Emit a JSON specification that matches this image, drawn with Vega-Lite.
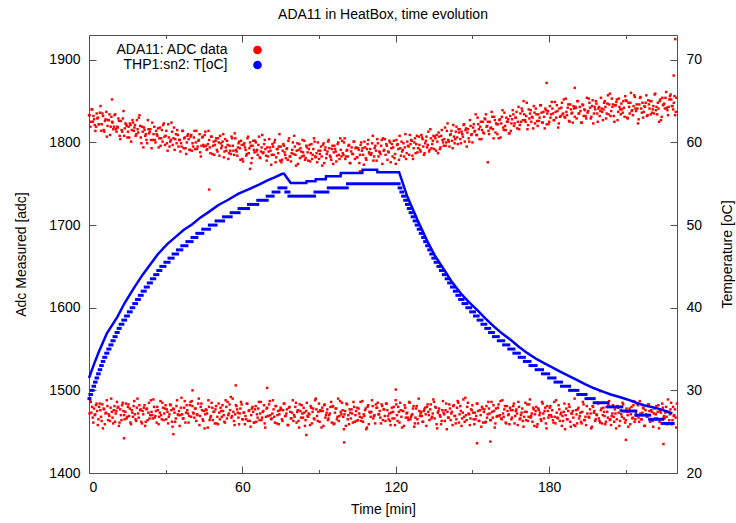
{
"$schema":"https://vega.github.io/schema/vega-lite/v6.json",
"width":588,"height":438,
"autosize":{"type":"none"},
"padding":{"left":89,"top":35,"right":59,"bottom":50},
"title":{"text":"ADA11 in HeatBox, time evolution","fontSize":14,"fontWeight":"normal","color":"#000000","font":"Liberation Sans","offset":13,"frame":"group","anchor":"middle"},
"config":{
"font":"Liberation Sans",
"view":{"stroke":"#505050","strokeWidth":1},
"axis":{"labelFont":"Liberation Sans","labelFontSize":14,"labelColor":"#000000","titleFont":"Liberation Sans","titleFontSize":14,"titleFontWeight":"normal","titleColor":"#000000","domain":false,"tickColor":"#505050","tickWidth":1,"grid":false}
},
"resolve":{"scale":{"x":"independent","y":"independent"},"axis":{"x":"independent","y":"independent"}},
"layer":[
{
"data":{"values":[
{"t":0,"a":1833},{"t":0.5,"a":1819},{"t":1,"a":1840},{"t":1.5,"a":1825},{"t":2,"a":1828},{"t":2.5,"a":1814},{"t":3,"a":1835},{"t":3.5,"a":1830},{"t":4,"a":1822},{"t":4.5,"a":1844},
{"t":5,"a":1822},{"t":5.5,"a":1832},{"t":6,"a":1813},{"t":6.5,"a":1828},{"t":7,"a":1807},{"t":7.5,"a":1827},{"t":8,"a":1834},{"t":8.5,"a":1819},{"t":9,"a":1825},{"t":9.5,"a":1816},
{"t":10,"a":1833},{"t":10.5,"a":1816},{"t":11,"a":1819},{"t":11.5,"a":1829},{"t":12,"a":1808},{"t":12.5,"a":1826},{"t":13,"a":1813},{"t":13.5,"a":1838},{"t":14,"a":1817},{"t":14.5,"a":1822},
{"t":15,"a":1806},{"t":15.5,"a":1819},{"t":16,"a":1823},{"t":16.5,"a":1801},{"t":17,"a":1827},{"t":17.5,"a":1814},{"t":18,"a":1821},{"t":18.5,"a":1810},{"t":19,"a":1816},{"t":19.5,"a":1830},
{"t":20,"a":1820},{"t":20.5,"a":1799},{"t":21,"a":1813},{"t":21.5,"a":1818},{"t":22,"a":1808},{"t":22.5,"a":1803},{"t":23,"a":1827},{"t":23.5,"a":1811},{"t":24,"a":1816},{"t":24.5,"a":1793},
{"t":25,"a":1803},{"t":25.5,"a":1819},{"t":26,"a":1800},{"t":26.5,"a":1810},{"t":27,"a":1817},{"t":27.5,"a":1805},{"t":28,"a":1796},{"t":28.5,"a":1815},{"t":29,"a":1821},{"t":29.5,"a":1807},
{"t":30,"a":1808},{"t":30.5,"a":1799},{"t":31,"a":1822},{"t":31.5,"a":1795},{"t":32,"a":1803},{"t":32.5,"a":1813},{"t":33,"a":1805},{"t":33.5,"a":1791},{"t":34,"a":1810},{"t":34.5,"a":1815},
{"t":35,"a":1795},{"t":35.5,"a":1803},{"t":36,"a":1799},{"t":36.5,"a":1814},{"t":37,"a":1793},{"t":37.5,"a":1806},{"t":38,"a":1786},{"t":38.5,"a":1808},{"t":39,"a":1804},{"t":39.5,"a":1791},
{"t":40,"a":1809},{"t":40.5,"a":1799},{"t":41,"a":1806},{"t":41.5,"a":1792},{"t":42,"a":1814},{"t":42.5,"a":1795},{"t":43,"a":1803},{"t":43.5,"a":1788},{"t":44,"a":1796},{"t":44.5,"a":1807},
{"t":45,"a":1795},{"t":45.5,"a":1813},{"t":46,"a":1791},{"t":46.5,"a":1798},{"t":47,"a":1803},{"t":47.5,"a":1787},{"t":48,"a":1807},{"t":48.5,"a":1796},{"t":49,"a":1785},{"t":49.5,"a":1802},
{"t":50,"a":1791},{"t":50.5,"a":1805},{"t":51,"a":1784},{"t":51.5,"a":1799},{"t":52,"a":1796},{"t":52.5,"a":1810},{"t":53,"a":1789},{"t":53.5,"a":1794},{"t":54,"a":1802},{"t":54.5,"a":1780},
{"t":55,"a":1796},{"t":55.5,"a":1786},{"t":56,"a":1805},{"t":56.5,"a":1790},{"t":57,"a":1811},{"t":57.5,"a":1791},{"t":58,"a":1784},{"t":58.5,"a":1799},{"t":59,"a":1793},{"t":59.5,"a":1802},
{"t":60,"a":1780},{"t":60.5,"a":1797},{"t":61,"a":1794},{"t":61.5,"a":1784},{"t":62,"a":1805},{"t":62.5,"a":1787},{"t":63,"a":1800},{"t":63.5,"a":1775},{"t":64,"a":1796},{"t":64.5,"a":1791},
{"t":65,"a":1802},{"t":65.5,"a":1789},{"t":66,"a":1785},{"t":66.5,"a":1807},{"t":67,"a":1781},{"t":67.5,"a":1794},{"t":68,"a":1787},{"t":68.5,"a":1798},{"t":69,"a":1792},{"t":69.5,"a":1778},
{"t":70,"a":1783},{"t":70.5,"a":1804},{"t":71,"a":1790},{"t":71.5,"a":1785},{"t":72,"a":1795},{"t":72.5,"a":1800},{"t":73,"a":1776},{"t":73.5,"a":1792},{"t":74,"a":1787},{"t":74.5,"a":1810},
{"t":75,"a":1795},{"t":75.5,"a":1779},{"t":76,"a":1798},{"t":76.5,"a":1788},{"t":77,"a":1781},{"t":77.5,"a":1793},{"t":78,"a":1802},{"t":78.5,"a":1783},{"t":79,"a":1777},{"t":79.5,"a":1791},
{"t":80,"a":1786},{"t":80.5,"a":1795},{"t":81,"a":1772},{"t":81.5,"a":1799},{"t":82,"a":1791},{"t":82.5,"a":1781},{"t":83,"a":1789},{"t":83.5,"a":1803},{"t":84,"a":1784},{"t":84.5,"a":1779},
{"t":85,"a":1796},{"t":85.5,"a":1788},{"t":86,"a":1792},{"t":86.5,"a":1777},{"t":87,"a":1798},{"t":87.5,"a":1785},{"t":88,"a":1805},{"t":88.5,"a":1783},{"t":89,"a":1787},{"t":89.5,"a":1800},
{"t":90,"a":1780},{"t":90.5,"a":1790},{"t":91,"a":1783},{"t":91.5,"a":1797},{"t":92,"a":1775},{"t":92.5,"a":1794},{"t":93,"a":1786},{"t":93.5,"a":1801},{"t":94,"a":1793},{"t":94.5,"a":1782},
{"t":95,"a":1792},{"t":95.5,"a":1774},{"t":96,"a":1796},{"t":96.5,"a":1789},{"t":97,"a":1784},{"t":97.5,"a":1800},{"t":98,"a":1780},{"t":98.5,"a":1791},{"t":99,"a":1802},{"t":99.5,"a":1785},
{"t":100,"a":1805},{"t":100.5,"a":1783},{"t":101,"a":1791},{"t":101.5,"a":1796},{"t":102,"a":1775},{"t":102.5,"a":1789},{"t":103,"a":1786},{"t":103.5,"a":1801},{"t":104,"a":1780},{"t":104.5,"a":1794},
{"t":105,"a":1782},{"t":105.5,"a":1791},{"t":106,"a":1785},{"t":106.5,"a":1800},{"t":107,"a":1793},{"t":107.5,"a":1773},{"t":108,"a":1794},{"t":108.5,"a":1779},{"t":109,"a":1798},{"t":109.5,"a":1788},
{"t":110,"a":1792},{"t":110.5,"a":1787},{"t":111,"a":1808},{"t":111.5,"a":1783},{"t":112,"a":1796},{"t":112.5,"a":1778},{"t":113,"a":1799},{"t":113.5,"a":1789},{"t":114,"a":1786},{"t":114.5,"a":1803},
{"t":115,"a":1805},{"t":115.5,"a":1791},{"t":116,"a":1785},{"t":116.5,"a":1796},{"t":117,"a":1789},{"t":117.5,"a":1802},{"t":118,"a":1776},{"t":118.5,"a":1798},{"t":119,"a":1794},{"t":119.5,"a":1781},
{"t":120,"a":1774},{"t":120.5,"a":1797},{"t":121,"a":1792},{"t":121.5,"a":1808},{"t":122,"a":1784},{"t":122.5,"a":1789},{"t":123,"a":1799},{"t":123.5,"a":1794},{"t":124,"a":1780},{"t":124.5,"a":1801},
{"t":125,"a":1795},{"t":125.5,"a":1809},{"t":126,"a":1803},{"t":126.5,"a":1784},{"t":127,"a":1793},{"t":127.5,"a":1805},{"t":128,"a":1798},{"t":128.5,"a":1788},{"t":129,"a":1807},{"t":129.5,"a":1791},
{"t":130,"a":1809},{"t":130.5,"a":1804},{"t":131,"a":1785},{"t":131.5,"a":1799},{"t":132,"a":1807},{"t":132.5,"a":1797},{"t":133,"a":1789},{"t":133.5,"a":1816},{"t":134,"a":1793},{"t":134.5,"a":1802},
{"t":135,"a":1792},{"t":135.5,"a":1805},{"t":136,"a":1809},{"t":136.5,"a":1787},{"t":137,"a":1807},{"t":137.5,"a":1794},{"t":138,"a":1815},{"t":138.5,"a":1800},{"t":139,"a":1804},{"t":139.5,"a":1796},
{"t":140,"a":1814},{"t":140.5,"a":1803},{"t":141,"a":1795},{"t":141.5,"a":1810},{"t":142,"a":1802},{"t":142.5,"a":1821},{"t":143,"a":1799},{"t":143.5,"a":1813},{"t":144,"a":1806},{"t":144.5,"a":1816},
{"t":145,"a":1816},{"t":145.5,"a":1799},{"t":146,"a":1810},{"t":146.5,"a":1821},{"t":147,"a":1801},{"t":147.5,"a":1817},{"t":148,"a":1812},{"t":148.5,"a":1805},{"t":149,"a":1827},{"t":149.5,"a":1809},
{"t":150,"a":1800},{"t":150.5,"a":1822},{"t":151,"a":1814},{"t":151.5,"a":1809},{"t":152,"a":1830},{"t":152.5,"a":1816},{"t":153,"a":1819},{"t":153.5,"a":1804},{"t":154,"a":1825},{"t":154.5,"a":1811},
{"t":155,"a":1828},{"t":155.5,"a":1819},{"t":156,"a":1825},{"t":156.5,"a":1810},{"t":157,"a":1817},{"t":157.5,"a":1837},{"t":158,"a":1816},{"t":158.5,"a":1831},{"t":159,"a":1812},{"t":159.5,"a":1822},
{"t":160,"a":1822},{"t":160.5,"a":1827},{"t":161,"a":1806},{"t":161.5,"a":1831},{"t":162,"a":1818},{"t":162.5,"a":1836},{"t":163,"a":1815},{"t":163.5,"a":1825},{"t":164,"a":1828},{"t":164.5,"a":1811},
{"t":165,"a":1814},{"t":165.5,"a":1828},{"t":166,"a":1834},{"t":166.5,"a":1823},{"t":167,"a":1830},{"t":167.5,"a":1817},{"t":168,"a":1843},{"t":168.5,"a":1821},{"t":169,"a":1825},{"t":169.5,"a":1838},
{"t":170,"a":1850},{"t":170.5,"a":1827},{"t":171,"a":1832},{"t":171.5,"a":1816},{"t":172,"a":1840},{"t":172.5,"a":1835},{"t":173,"a":1825},{"t":173.5,"a":1830},{"t":174,"a":1844},{"t":174.5,"a":1823},
{"t":175,"a":1834},{"t":175.5,"a":1820},{"t":176,"a":1826},{"t":176.5,"a":1845},{"t":177,"a":1836},{"t":177.5,"a":1824},{"t":178,"a":1831},{"t":178.5,"a":1841},{"t":179,"a":1822},{"t":179.5,"a":1838},
{"t":180,"a":1825},{"t":180.5,"a":1830},{"t":181,"a":1849},{"t":181.5,"a":1835},{"t":182,"a":1827},{"t":182.5,"a":1837},{"t":183,"a":1845},{"t":183.5,"a":1818},{"t":184,"a":1841},{"t":184.5,"a":1832},
{"t":185,"a":1848},{"t":185.5,"a":1835},{"t":186,"a":1831},{"t":186.5,"a":1853},{"t":187,"a":1833},{"t":187.5,"a":1846},{"t":188,"a":1825},{"t":188.5,"a":1840},{"t":189,"a":1836},{"t":189.5,"a":1844},
{"t":190,"a":1831},{"t":190.5,"a":1842},{"t":191,"a":1850},{"t":191.5,"a":1835},{"t":192,"a":1843},{"t":192.5,"a":1824},{"t":193,"a":1846},{"t":193.5,"a":1832},{"t":194,"a":1839},{"t":194.5,"a":1829},
{"t":195,"a":1836},{"t":195.5,"a":1853},{"t":196,"a":1842},{"t":196.5,"a":1831},{"t":197,"a":1851},{"t":197.5,"a":1835},{"t":198,"a":1840},{"t":198.5,"a":1847},{"t":199,"a":1825},{"t":199.5,"a":1843},
{"t":200,"a":1838},{"t":200.5,"a":1841},{"t":201,"a":1827},{"t":201.5,"a":1848},{"t":202,"a":1843},{"t":202.5,"a":1835},{"t":203,"a":1857},{"t":203.5,"a":1846},{"t":204,"a":1832},{"t":204.5,"a":1853},
{"t":205,"a":1846},{"t":205.5,"a":1825},{"t":206,"a":1845},{"t":206.5,"a":1852},{"t":207,"a":1837},{"t":207.5,"a":1843},{"t":208,"a":1834},{"t":208.5,"a":1840},{"t":209,"a":1850},{"t":209.5,"a":1831},
{"t":210,"a":1851},{"t":210.5,"a":1830},{"t":211,"a":1848},{"t":211.5,"a":1835},{"t":212,"a":1860},{"t":212.5,"a":1839},{"t":213,"a":1844},{"t":213.5,"a":1855},{"t":214,"a":1838},{"t":214.5,"a":1841},
{"t":215,"a":1828},{"t":215.5,"a":1854},{"t":216,"a":1841},{"t":216.5,"a":1848},{"t":217,"a":1837},{"t":217.5,"a":1843},{"t":218,"a":1857},{"t":218.5,"a":1833},{"t":219,"a":1846},{"t":219.5,"a":1850},
{"t":220,"a":1850},{"t":220.5,"a":1840},{"t":221,"a":1835},{"t":221.5,"a":1859},{"t":222,"a":1843},{"t":222.5,"a":1848},{"t":223,"a":1825},{"t":223.5,"a":1852},{"t":224,"a":1831},{"t":224.5,"a":1845},
{"t":225,"a":1847},{"t":225.5,"a":1854},{"t":226,"a":1842},{"t":226.5,"a":1833},{"t":227,"a":1852},{"t":227.5,"a":1858},{"t":228,"a":1844},{"t":228.5,"a":1840},{"t":229,"a":1856},{"t":229.5,"a":1837},
{"t":0.25,"a":1833},{"t":0.75,"a":1825},{"t":1.25,"a":1840},{"t":1.75,"a":1832},{"t":2.25,"a":1821},{"t":2.75,"a":1819},{"t":3.25,"a":1829},{"t":3.75,"a":1822},{"t":4.25,"a":1836},{"t":4.75,"a":1814},
{"t":5.25,"a":1835},{"t":5.75,"a":1815},{"t":6.25,"a":1826},{"t":6.75,"a":1837},{"t":7.25,"a":1820},{"t":7.75,"a":1827},{"t":8.25,"a":1809},{"t":8.75,"a":1831},{"t":9.25,"a":1824},{"t":9.75,"a":1819},
{"t":10.25,"a":1834},{"t":10.75,"a":1813},{"t":11.25,"a":1818},{"t":11.75,"a":1826},{"t":12.25,"a":1804},{"t":12.75,"a":1815},{"t":13.25,"a":1829},{"t":13.75,"a":1808},{"t":14.25,"a":1823},{"t":14.75,"a":1820},
{"t":15.25,"a":1813},{"t":15.75,"a":1806},{"t":16.25,"a":1821},{"t":16.75,"a":1815},{"t":17.25,"a":1824},{"t":17.75,"a":1818},{"t":18.25,"a":1808},{"t":18.75,"a":1827},{"t":19.25,"a":1812},{"t":19.75,"a":1833},
{"t":20.25,"a":1806},{"t":20.75,"a":1819},{"t":21.25,"a":1794},{"t":21.75,"a":1815},{"t":22.25,"a":1810},{"t":22.75,"a":1799},{"t":23.25,"a":1816},{"t":23.75,"a":1813},{"t":24.25,"a":1803},{"t":24.75,"a":1824},
{"t":25.25,"a":1810},{"t":25.75,"a":1803},{"t":26.25,"a":1814},{"t":26.75,"a":1808},{"t":27.25,"a":1794},{"t":27.75,"a":1818},{"t":28.25,"a":1805},{"t":28.75,"a":1801},{"t":29.25,"a":1823},{"t":29.75,"a":1797},
{"t":30.25,"a":1814},{"t":30.75,"a":1790},{"t":31.25,"a":1806},{"t":31.75,"a":1801},{"t":32.25,"a":1824},{"t":32.75,"a":1797},{"t":33.25,"a":1818},{"t":33.75,"a":1804},{"t":34.25,"a":1799},{"t":34.75,"a":1809},
{"t":35.25,"a":1803},{"t":35.75,"a":1789},{"t":36.25,"a":1795},{"t":36.75,"a":1814},{"t":37.25,"a":1805},{"t":37.75,"a":1793},{"t":38.25,"a":1800},{"t":38.75,"a":1810},{"t":39.25,"a":1791},{"t":39.75,"a":1807},
{"t":40.25,"a":1790},{"t":40.75,"a":1795},{"t":41.25,"a":1814},{"t":41.75,"a":1800},{"t":42.25,"a":1792},{"t":42.75,"a":1802},{"t":43.25,"a":1810},{"t":43.75,"a":1783},{"t":44.25,"a":1806},{"t":44.75,"a":1797},
{"t":45.25,"a":1809},{"t":45.75,"a":1796},{"t":46.25,"a":1792},{"t":46.75,"a":1814},{"t":47.25,"a":1794},{"t":47.75,"a":1807},{"t":48.25,"a":1786},{"t":48.75,"a":1801},{"t":49.25,"a":1797},{"t":49.75,"a":1805},
{"t":50.25,"a":1789},{"t":50.75,"a":1800},{"t":51.25,"a":1808},{"t":51.75,"a":1793},{"t":52.25,"a":1801},{"t":52.75,"a":1782},{"t":53.25,"a":1804},{"t":53.75,"a":1790},{"t":54.25,"a":1797},{"t":54.75,"a":1787},
{"t":55.25,"a":1790},{"t":55.75,"a":1807},{"t":56.25,"a":1796},{"t":56.75,"a":1785},{"t":57.25,"a":1805},{"t":57.75,"a":1789},{"t":58.25,"a":1794},{"t":58.75,"a":1801},{"t":59.25,"a":1779},{"t":59.75,"a":1797},
{"t":60.25,"a":1777},{"t":60.75,"a":1799},{"t":61.25,"a":1791},{"t":61.75,"a":1786},{"t":62.25,"a":1807},{"t":62.75,"a":1793},{"t":63.25,"a":1796},{"t":63.75,"a":1781},{"t":64.25,"a":1802},{"t":64.75,"a":1788},
{"t":65.25,"a":1800},{"t":65.75,"a":1791},{"t":66.25,"a":1797},{"t":66.75,"a":1782},{"t":67.25,"a":1789},{"t":67.75,"a":1809},{"t":68.25,"a":1788},{"t":68.75,"a":1803},{"t":69.25,"a":1784},{"t":69.75,"a":1794},
{"t":70.25,"a":1789},{"t":70.75,"a":1794},{"t":71.25,"a":1773},{"t":71.75,"a":1798},{"t":72.25,"a":1785},{"t":72.75,"a":1803},{"t":73.25,"a":1782},{"t":73.75,"a":1792},{"t":74.25,"a":1795},{"t":74.75,"a":1778},
{"t":75.25,"a":1776},{"t":75.75,"a":1790},{"t":76.25,"a":1796},{"t":76.75,"a":1785},{"t":77.25,"a":1792},{"t":77.75,"a":1779},{"t":78.25,"a":1805},{"t":78.75,"a":1783},{"t":79.25,"a":1787},{"t":79.75,"a":1800},
{"t":80.25,"a":1808},{"t":80.75,"a":1785},{"t":81.25,"a":1790},{"t":81.75,"a":1774},{"t":82.25,"a":1798},{"t":82.75,"a":1793},{"t":83.25,"a":1783},{"t":83.75,"a":1788},{"t":84.25,"a":1802},{"t":84.75,"a":1781},
{"t":85.25,"a":1794},{"t":85.75,"a":1778},{"t":86.25,"a":1797},{"t":86.75,"a":1787},{"t":87.25,"a":1780},{"t":87.75,"a":1792},{"t":88.25,"a":1801},{"t":88.75,"a":1782},{"t":89.25,"a":1776},{"t":89.75,"a":1790},
{"t":90.25,"a":1786},{"t":90.75,"a":1795},{"t":91.25,"a":1772},{"t":91.75,"a":1799},{"t":92.25,"a":1791},{"t":92.75,"a":1781},{"t":93.25,"a":1789},{"t":93.75,"a":1803},{"t":94.25,"a":1784},{"t":94.75,"a":1779},
{"t":95.25,"a":1796},{"t":95.75,"a":1788},{"t":96.25,"a":1792},{"t":96.75,"a":1777},{"t":97.25,"a":1798},{"t":97.75,"a":1785},{"t":98.25,"a":1805},{"t":98.75,"a":1783},{"t":99.25,"a":1787},{"t":99.75,"a":1800},
{"t":100.25,"a":1780},{"t":100.75,"a":1790},{"t":101.25,"a":1783},{"t":101.75,"a":1797},{"t":102.25,"a":1775},{"t":102.75,"a":1794},{"t":103.25,"a":1786},{"t":103.75,"a":1801},{"t":104.25,"a":1793},{"t":104.75,"a":1782},
{"t":105.25,"a":1793},{"t":105.75,"a":1775},{"t":106.25,"a":1797},{"t":106.75,"a":1790},{"t":107.25,"a":1785},{"t":107.75,"a":1801},{"t":108.25,"a":1781},{"t":108.75,"a":1792},{"t":109.25,"a":1803},{"t":109.75,"a":1786},
{"t":110.25,"a":1785},{"t":110.75,"a":1799},{"t":111.25,"a":1778},{"t":111.75,"a":1793},{"t":112.25,"a":1790},{"t":112.75,"a":1804},{"t":113.25,"a":1783},{"t":113.75,"a":1788},{"t":114.25,"a":1796},{"t":114.75,"a":1774},
{"t":115.25,"a":1790},{"t":115.75,"a":1804},{"t":116.25,"a":1798},{"t":116.75,"a":1779},{"t":117.25,"a":1788},{"t":117.75,"a":1800},{"t":118.25,"a":1793},{"t":118.75,"a":1783},{"t":119.25,"a":1802},{"t":119.75,"a":1786},
{"t":120.25,"a":1803},{"t":120.75,"a":1798},{"t":121.25,"a":1779},{"t":121.75,"a":1793},{"t":122.25,"a":1801},{"t":122.75,"a":1791},{"t":123.25,"a":1783},{"t":123.75,"a":1810},{"t":124.25,"a":1787},{"t":124.75,"a":1796},
{"t":125.25,"a":1785},{"t":125.75,"a":1798},{"t":126.25,"a":1802},{"t":126.75,"a":1780},{"t":127.25,"a":1800},{"t":127.75,"a":1787},{"t":128.25,"a":1808},{"t":128.75,"a":1793},{"t":129.25,"a":1797},{"t":129.75,"a":1789},
{"t":130.25,"a":1806},{"t":130.75,"a":1795},{"t":131.25,"a":1787},{"t":131.75,"a":1802},{"t":132.25,"a":1794},{"t":132.75,"a":1813},{"t":133.25,"a":1791},{"t":133.75,"a":1805},{"t":134.25,"a":1798},{"t":134.75,"a":1808},
{"t":135.25,"a":1807},{"t":135.75,"a":1790},{"t":136.25,"a":1801},{"t":136.75,"a":1812},{"t":137.25,"a":1792},{"t":137.75,"a":1808},{"t":138.25,"a":1803},{"t":138.75,"a":1796},{"t":139.25,"a":1818},{"t":139.75,"a":1800},
{"t":140.25,"a":1823},{"t":140.75,"a":1801},{"t":141.25,"a":1809},{"t":141.75,"a":1814},{"t":142.25,"a":1793},{"t":142.75,"a":1807},{"t":143.25,"a":1804},{"t":143.75,"a":1819},{"t":144.25,"a":1798},{"t":144.75,"a":1812},
{"t":145.25,"a":1804},{"t":145.75,"a":1813},{"t":146.25,"a":1807},{"t":146.75,"a":1822},{"t":147.25,"a":1815},{"t":147.75,"a":1795},{"t":148.25,"a":1816},{"t":148.75,"a":1801},{"t":149.25,"a":1820},{"t":149.75,"a":1810},
{"t":150.25,"a":1818},{"t":150.75,"a":1813},{"t":151.25,"a":1834},{"t":151.75,"a":1809},{"t":152.25,"a":1822},{"t":152.75,"a":1804},{"t":153.25,"a":1825},{"t":153.75,"a":1815},{"t":154.25,"a":1812},{"t":154.75,"a":1829},
{"t":155.25,"a":1834},{"t":155.75,"a":1820},{"t":156.25,"a":1814},{"t":156.75,"a":1825},{"t":157.25,"a":1818},{"t":157.75,"a":1831},{"t":158.25,"a":1805},{"t":158.75,"a":1827},{"t":159.25,"a":1823},{"t":159.75,"a":1810},
{"t":160.25,"a":1805},{"t":160.75,"a":1828},{"t":161.25,"a":1823},{"t":161.75,"a":1839},{"t":162.25,"a":1815},{"t":162.75,"a":1820},{"t":163.25,"a":1830},{"t":163.75,"a":1825},{"t":164.25,"a":1811},{"t":164.75,"a":1832},
{"t":165.25,"a":1823},{"t":165.75,"a":1839},{"t":166.25,"a":1820},{"t":166.75,"a":1830},{"t":167.25,"a":1837},{"t":167.75,"a":1825},{"t":168.25,"a":1816},{"t":168.75,"a":1835},{"t":169.25,"a":1841},{"t":169.75,"a":1827},
{"t":170.25,"a":1834},{"t":170.75,"a":1825},{"t":171.25,"a":1848},{"t":171.75,"a":1821},{"t":172.25,"a":1829},{"t":172.75,"a":1839},{"t":173.25,"a":1831},{"t":173.75,"a":1817},{"t":174.25,"a":1836},{"t":174.75,"a":1841},
{"t":175.25,"a":1826},{"t":175.75,"a":1834},{"t":176.25,"a":1830},{"t":176.75,"a":1845},{"t":177.25,"a":1824},{"t":177.75,"a":1837},{"t":178.25,"a":1817},{"t":178.75,"a":1839},{"t":179.25,"a":1835},{"t":179.75,"a":1822},
{"t":180.25,"a":1844},{"t":180.75,"a":1834},{"t":181.25,"a":1841},{"t":181.75,"a":1827},{"t":182.25,"a":1849},{"t":182.75,"a":1830},{"t":183.25,"a":1838},{"t":183.75,"a":1823},{"t":184.25,"a":1831},{"t":184.75,"a":1842},
{"t":185.25,"a":1834},{"t":185.75,"a":1852},{"t":186.25,"a":1830},{"t":186.75,"a":1837},{"t":187.25,"a":1842},{"t":187.75,"a":1826},{"t":188.25,"a":1846},{"t":188.75,"a":1835},{"t":189.25,"a":1824},{"t":189.75,"a":1841},
{"t":190.25,"a":1843},{"t":190.75,"a":1829},{"t":191.25,"a":1850},{"t":191.75,"a":1835},{"t":192.25,"a":1838},{"t":192.75,"a":1824},{"t":193.25,"a":1845},{"t":193.75,"a":1840},{"t":194.25,"a":1832},{"t":194.75,"a":1854},
{"t":195.25,"a":1838},{"t":195.75,"a":1848},{"t":196.25,"a":1829},{"t":196.75,"a":1844},{"t":197.25,"a":1823},{"t":197.75,"a":1843},{"t":198.25,"a":1850},{"t":198.75,"a":1835},{"t":199.25,"a":1841},{"t":199.75,"a":1832},
{"t":200.25,"a":1854},{"t":200.75,"a":1837},{"t":201.25,"a":1840},{"t":201.75,"a":1850},{"t":202.25,"a":1829},{"t":202.75,"a":1847},{"t":203.25,"a":1834},{"t":203.75,"a":1859},{"t":204.25,"a":1838},{"t":204.75,"a":1843},
{"t":205.25,"a":1832},{"t":205.75,"a":1845},{"t":206.25,"a":1849},{"t":206.75,"a":1827},{"t":207.25,"a":1853},{"t":207.75,"a":1840},{"t":208.25,"a":1847},{"t":208.75,"a":1836},{"t":209.25,"a":1842},{"t":209.75,"a":1856},
{"t":210.25,"a":1850},{"t":210.75,"a":1829},{"t":211.25,"a":1843},{"t":211.75,"a":1848},{"t":212.25,"a":1838},{"t":212.75,"a":1833},{"t":213.25,"a":1857},{"t":213.75,"a":1841},{"t":214.25,"a":1846},{"t":214.75,"a":1823},
{"t":215.25,"a":1846},{"t":215.75,"a":1855},{"t":216.25,"a":1836},{"t":216.75,"a":1830},{"t":217.25,"a":1844},{"t":217.75,"a":1848},{"t":218.25,"a":1832},{"t":218.75,"a":1851},{"t":219.25,"a":1841},{"t":219.75,"a":1834},
{"t":220.25,"a":1836},{"t":220.75,"a":1844},{"t":221.25,"a":1858},{"t":221.75,"a":1839},{"t":222.25,"a":1834},{"t":222.75,"a":1841},{"t":223.25,"a":1850},{"t":223.75,"a":1827},{"t":224.25,"a":1854},{"t":224.75,"a":1846},
{"t":225.25,"a":1841},{"t":225.75,"a":1861},{"t":226.25,"a":1839},{"t":226.75,"a":1843},{"t":227.25,"a":1856},{"t":227.75,"a":1852},{"t":228.25,"a":1844},{"t":228.75,"a":1848},{"t":229.25,"a":1833},{"t":229.75,"a":1854},
{"t":0.2,"a":1472},{"t":0.7,"a":1486},{"t":1.2,"a":1480},{"t":1.7,"a":1461},{"t":2.2,"a":1470},{"t":2.7,"a":1482},{"t":3.2,"a":1475},{"t":3.7,"a":1465},{"t":4.2,"a":1484},{"t":4.7,"a":1468},
{"t":5.2,"a":1483},{"t":5.7,"a":1478},{"t":6.2,"a":1459},{"t":6.7,"a":1473},{"t":7.2,"a":1481},{"t":7.7,"a":1471},{"t":8.2,"a":1463},{"t":8.7,"a":1490},{"t":9.2,"a":1467},{"t":9.7,"a":1476},
{"t":10.2,"a":1462},{"t":10.7,"a":1475},{"t":11.2,"a":1479},{"t":11.7,"a":1457},{"t":12.2,"a":1477},{"t":12.7,"a":1464},{"t":13.2,"a":1485},{"t":13.7,"a":1470},{"t":14.2,"a":1474},{"t":14.7,"a":1466},
{"t":15.2,"a":1480},{"t":15.7,"a":1469},{"t":16.2,"a":1461},{"t":16.7,"a":1476},{"t":17.2,"a":1468},{"t":17.7,"a":1487},{"t":18.2,"a":1465},{"t":18.7,"a":1479},{"t":19.2,"a":1472},{"t":19.7,"a":1482},
{"t":20.2,"a":1477},{"t":20.7,"a":1460},{"t":21.2,"a":1471},{"t":21.7,"a":1482},{"t":22.2,"a":1462},{"t":22.7,"a":1478},{"t":23.2,"a":1473},{"t":23.7,"a":1466},{"t":24.2,"a":1488},{"t":24.7,"a":1470},
{"t":25.2,"a":1489},{"t":25.7,"a":1467},{"t":26.2,"a":1475},{"t":26.7,"a":1480},{"t":27.2,"a":1459},{"t":27.7,"a":1473},{"t":28.2,"a":1470},{"t":28.7,"a":1485},{"t":29.2,"a":1464},{"t":29.7,"a":1478},
{"t":30.2,"a":1465},{"t":30.7,"a":1474},{"t":31.2,"a":1468},{"t":31.7,"a":1483},{"t":32.2,"a":1476},{"t":32.7,"a":1456},{"t":33.2,"a":1477},{"t":33.7,"a":1462},{"t":34.2,"a":1481},{"t":34.7,"a":1471},
{"t":35.2,"a":1475},{"t":35.7,"a":1470},{"t":36.2,"a":1491},{"t":36.7,"a":1466},{"t":37.2,"a":1479},{"t":37.7,"a":1461},{"t":38.2,"a":1482},{"t":38.7,"a":1472},{"t":39.2,"a":1469},{"t":39.7,"a":1486},
{"t":40.2,"a":1487},{"t":40.7,"a":1473},{"t":41.2,"a":1467},{"t":41.7,"a":1478},{"t":42.2,"a":1471},{"t":42.7,"a":1484},{"t":43.2,"a":1458},{"t":43.7,"a":1480},{"t":44.2,"a":1476},{"t":44.7,"a":1463},
{"t":45.2,"a":1454},{"t":45.7,"a":1477},{"t":46.2,"a":1472},{"t":46.7,"a":1488},{"t":47.2,"a":1464},{"t":47.7,"a":1469},{"t":48.2,"a":1479},{"t":48.7,"a":1474},{"t":49.2,"a":1460},{"t":49.7,"a":1481},
{"t":50.2,"a":1468},{"t":50.7,"a":1484},{"t":51.2,"a":1465},{"t":51.7,"a":1475},{"t":52.2,"a":1482},{"t":52.7,"a":1470},{"t":53.2,"a":1461},{"t":53.7,"a":1480},{"t":54.2,"a":1486},{"t":54.7,"a":1472},
{"t":55.2,"a":1476},{"t":55.7,"a":1467},{"t":56.2,"a":1490},{"t":56.7,"a":1463},{"t":57.2,"a":1471},{"t":57.7,"a":1481},{"t":58.2,"a":1473},{"t":58.7,"a":1459},{"t":59.2,"a":1478},{"t":59.7,"a":1483},
{"t":60.2,"a":1465},{"t":60.7,"a":1473},{"t":61.2,"a":1469},{"t":61.7,"a":1484},{"t":62.2,"a":1463},{"t":62.7,"a":1476},{"t":63.2,"a":1456},{"t":63.7,"a":1478},{"t":64.2,"a":1474},{"t":64.7,"a":1461},
{"t":65.2,"a":1481},{"t":65.7,"a":1471},{"t":66.2,"a":1478},{"t":66.7,"a":1464},{"t":67.2,"a":1486},{"t":67.7,"a":1467},{"t":68.2,"a":1475},{"t":68.7,"a":1460},{"t":69.2,"a":1468},{"t":69.7,"a":1479},
{"t":70.2,"a":1469},{"t":70.7,"a":1487},{"t":71.2,"a":1465},{"t":71.7,"a":1472},{"t":72.2,"a":1477},{"t":72.7,"a":1461},{"t":73.2,"a":1481},{"t":73.7,"a":1470},{"t":74.2,"a":1459},{"t":74.7,"a":1476},
{"t":75.2,"a":1477},{"t":75.7,"a":1463},{"t":76.2,"a":1484},{"t":76.7,"a":1469},{"t":77.2,"a":1472},{"t":77.7,"a":1458},{"t":78.2,"a":1479},{"t":78.7,"a":1474},{"t":79.2,"a":1466},{"t":79.7,"a":1488},
{"t":80.2,"a":1470},{"t":80.7,"a":1480},{"t":81.2,"a":1461},{"t":81.7,"a":1476},{"t":82.2,"a":1455},{"t":82.7,"a":1475},{"t":83.2,"a":1482},{"t":83.7,"a":1467},{"t":84.2,"a":1473},{"t":84.7,"a":1464},
{"t":85.2,"a":1485},{"t":85.7,"a":1468},{"t":86.2,"a":1471},{"t":86.7,"a":1481},{"t":87.2,"a":1460},{"t":87.7,"a":1478},{"t":88.2,"a":1465},{"t":88.7,"a":1490},{"t":89.2,"a":1469},{"t":89.7,"a":1474},
{"t":90.2,"a":1462},{"t":90.7,"a":1475},{"t":91.2,"a":1479},{"t":91.7,"a":1457},{"t":92.2,"a":1483},{"t":92.7,"a":1470},{"t":93.2,"a":1477},{"t":93.7,"a":1466},{"t":94.2,"a":1472},{"t":94.7,"a":1486},
{"t":95.2,"a":1480},{"t":95.7,"a":1459},{"t":96.2,"a":1473},{"t":96.7,"a":1478},{"t":97.2,"a":1468},{"t":97.7,"a":1463},{"t":98.2,"a":1487},{"t":98.7,"a":1471},{"t":99.2,"a":1476},{"t":99.7,"a":1453},
{"t":100.2,"a":1475},{"t":100.7,"a":1484},{"t":101.2,"a":1465},{"t":101.7,"a":1459},{"t":102.2,"a":1473},{"t":102.7,"a":1477},{"t":103.2,"a":1461},{"t":103.7,"a":1480},{"t":104.2,"a":1470},{"t":104.7,"a":1463},
{"t":105.2,"a":1464},{"t":105.7,"a":1472},{"t":106.2,"a":1486},{"t":106.7,"a":1467},{"t":107.2,"a":1462},{"t":107.7,"a":1469},{"t":108.2,"a":1478},{"t":108.7,"a":1455},{"t":109.2,"a":1482},{"t":109.7,"a":1474},
{"t":110.2,"a":1468},{"t":110.7,"a":1488},{"t":111.2,"a":1466},{"t":111.7,"a":1470},{"t":112.2,"a":1483},{"t":112.7,"a":1479},{"t":113.2,"a":1471},{"t":113.7,"a":1475},{"t":114.2,"a":1460},{"t":114.7,"a":1481},
{"t":115.2,"a":1477},{"t":115.7,"a":1469},{"t":116.2,"a":1484},{"t":116.7,"a":1476},{"t":117.2,"a":1465},{"t":117.7,"a":1463},{"t":118.2,"a":1473},{"t":118.7,"a":1466},{"t":119.2,"a":1480},{"t":119.7,"a":1458},
{"t":120.2,"a":1483},{"t":120.7,"a":1463},{"t":121.2,"a":1474},{"t":121.7,"a":1485},{"t":122.2,"a":1468},{"t":122.7,"a":1475},{"t":123.2,"a":1457},{"t":123.7,"a":1479},{"t":124.2,"a":1472},{"t":124.7,"a":1467},
{"t":125.2,"a":1486},{"t":125.7,"a":1465},{"t":126.2,"a":1470},{"t":126.7,"a":1478},{"t":127.2,"a":1456},{"t":127.7,"a":1467},{"t":128.2,"a":1481},{"t":128.7,"a":1460},{"t":129.2,"a":1475},{"t":129.7,"a":1472},
{"t":130.2,"a":1469},{"t":130.7,"a":1462},{"t":131.2,"a":1477},{"t":131.7,"a":1471},{"t":132.2,"a":1480},{"t":132.7,"a":1474},{"t":133.2,"a":1464},{"t":133.7,"a":1483},{"t":134.2,"a":1468},{"t":134.7,"a":1489},
{"t":135.2,"a":1466},{"t":135.7,"a":1479},{"t":136.2,"a":1454},{"t":136.7,"a":1475},{"t":137.2,"a":1470},{"t":137.7,"a":1459},{"t":138.2,"a":1476},{"t":138.7,"a":1473},{"t":139.2,"a":1463},{"t":139.7,"a":1484},
{"t":140.2,"a":1474},{"t":140.7,"a":1467},{"t":141.2,"a":1478},{"t":141.7,"a":1472},{"t":142.2,"a":1458},{"t":142.7,"a":1482},{"t":143.2,"a":1469},{"t":143.7,"a":1465},{"t":144.2,"a":1487},{"t":144.7,"a":1461},
{"t":145.2,"a":1481},{"t":145.7,"a":1457},{"t":146.2,"a":1473},{"t":146.7,"a":1468},{"t":147.2,"a":1491},{"t":147.7,"a":1464},{"t":148.2,"a":1485},{"t":148.7,"a":1471},{"t":149.2,"a":1466},{"t":149.7,"a":1476},
{"t":150.2,"a":1473},{"t":150.7,"a":1459},{"t":151.2,"a":1465},{"t":151.7,"a":1484},{"t":152.2,"a":1475},{"t":152.7,"a":1463},{"t":153.2,"a":1470},{"t":153.7,"a":1480},{"t":154.2,"a":1461},{"t":154.7,"a":1477},
{"t":155.2,"a":1462},{"t":155.7,"a":1467},{"t":156.2,"a":1486},{"t":156.7,"a":1472},{"t":157.2,"a":1464},{"t":157.7,"a":1474},{"t":158.2,"a":1482},{"t":158.7,"a":1455},{"t":159.2,"a":1478},{"t":159.7,"a":1469},
{"t":160.2,"a":1483},{"t":160.7,"a":1470},{"t":161.2,"a":1466},{"t":161.7,"a":1488},{"t":162.2,"a":1468},{"t":162.7,"a":1481},{"t":163.2,"a":1460},{"t":163.7,"a":1475},{"t":164.2,"a":1471},{"t":164.7,"a":1479},
{"t":165.2,"a":1465},{"t":165.7,"a":1476},{"t":166.2,"a":1484},{"t":166.7,"a":1469},{"t":167.2,"a":1477},{"t":167.7,"a":1458},{"t":168.2,"a":1480},{"t":168.7,"a":1466},{"t":169.2,"a":1473},{"t":169.7,"a":1463},
{"t":170.2,"a":1468},{"t":170.7,"a":1485},{"t":171.2,"a":1474},{"t":171.7,"a":1463},{"t":172.2,"a":1483},{"t":172.7,"a":1467},{"t":173.2,"a":1472},{"t":173.7,"a":1479},{"t":174.2,"a":1457},{"t":174.7,"a":1475},
{"t":175.2,"a":1456},{"t":175.7,"a":1478},{"t":176.2,"a":1470},{"t":176.7,"a":1465},{"t":177.2,"a":1486},{"t":177.7,"a":1472},{"t":178.2,"a":1475},{"t":178.7,"a":1460},{"t":179.2,"a":1481},{"t":179.7,"a":1467},
{"t":180.2,"a":1479},{"t":180.7,"a":1470},{"t":181.2,"a":1476},{"t":181.7,"a":1461},{"t":182.2,"a":1468},{"t":182.7,"a":1488},{"t":183.2,"a":1467},{"t":183.7,"a":1482},{"t":184.2,"a":1463},{"t":184.7,"a":1473},
{"t":185.2,"a":1469},{"t":185.7,"a":1474},{"t":186.2,"a":1453},{"t":186.7,"a":1478},{"t":187.2,"a":1465},{"t":187.7,"a":1483},{"t":188.2,"a":1462},{"t":188.7,"a":1472},{"t":189.2,"a":1475},{"t":189.7,"a":1458},
{"t":190.2,"a":1457},{"t":190.7,"a":1471},{"t":191.2,"a":1477},{"t":191.7,"a":1466},{"t":192.2,"a":1473},{"t":192.7,"a":1460},{"t":193.2,"a":1486},{"t":193.7,"a":1464},{"t":194.2,"a":1468},{"t":194.7,"a":1481},
{"t":195.2,"a":1490},{"t":195.7,"a":1467},{"t":196.2,"a":1472},{"t":196.7,"a":1456},{"t":197.2,"a":1480},{"t":197.7,"a":1475},{"t":198.2,"a":1465},{"t":198.7,"a":1470},{"t":199.2,"a":1484},{"t":199.7,"a":1463},
{"t":200.2,"a":1476},{"t":200.7,"a":1460},{"t":201.2,"a":1479},{"t":201.7,"a":1469},{"t":202.2,"a":1462},{"t":202.7,"a":1474},{"t":203.2,"a":1483},{"t":203.7,"a":1464},{"t":204.2,"a":1458},{"t":204.7,"a":1472},
{"t":205.2,"a":1468},{"t":205.7,"a":1477},{"t":206.2,"a":1454},{"t":206.7,"a":1481},{"t":207.2,"a":1473},{"t":207.7,"a":1463},{"t":208.2,"a":1471},{"t":208.7,"a":1485},{"t":209.2,"a":1466},{"t":209.7,"a":1461},
{"t":210.2,"a":1478},{"t":210.7,"a":1470},{"t":211.2,"a":1474},{"t":211.7,"a":1459},{"t":212.2,"a":1480},{"t":212.7,"a":1467},{"t":213.2,"a":1487},{"t":213.7,"a":1465},{"t":214.2,"a":1469},{"t":214.7,"a":1482},
{"t":215.2,"a":1462},{"t":215.7,"a":1472},{"t":216.2,"a":1465},{"t":216.7,"a":1479},{"t":217.2,"a":1457},{"t":217.7,"a":1476},{"t":218.2,"a":1468},{"t":218.7,"a":1483},{"t":219.2,"a":1475},{"t":219.7,"a":1464},
{"t":220.2,"a":1474},{"t":220.7,"a":1456},{"t":221.2,"a":1478},{"t":221.7,"a":1471},{"t":222.2,"a":1466},{"t":222.7,"a":1482},{"t":223.2,"a":1462},{"t":223.7,"a":1473},{"t":224.2,"a":1484},{"t":224.7,"a":1467},
{"t":225.2,"a":1466},{"t":225.7,"a":1480},{"t":226.2,"a":1459},{"t":226.7,"a":1474},{"t":227.2,"a":1471},{"t":227.7,"a":1485},{"t":228.2,"a":1464},{"t":228.7,"a":1469},{"t":229.2,"a":1477},{"t":229.7,"a":1455},
{"t":0.45,"a":1487},{"t":0.95,"a":1473},{"t":1.45,"a":1467},{"t":1.95,"a":1478},{"t":2.45,"a":1471},{"t":2.95,"a":1484},{"t":3.45,"a":1458},{"t":3.95,"a":1480},{"t":4.45,"a":1476},{"t":4.95,"a":1463},
{"t":5.45,"a":1454},{"t":5.95,"a":1477},{"t":6.45,"a":1472},{"t":6.95,"a":1488},{"t":7.45,"a":1464},{"t":7.95,"a":1469},{"t":8.45,"a":1479},{"t":8.95,"a":1474},{"t":9.45,"a":1460},{"t":9.95,"a":1481},
{"t":10.45,"a":1472},{"t":10.95,"a":1486},{"t":11.45,"a":1480},{"t":11.95,"a":1461},{"t":12.45,"a":1470},{"t":12.95,"a":1482},{"t":13.45,"a":1475},{"t":13.95,"a":1465},{"t":14.45,"a":1484},{"t":14.95,"a":1468},
{"t":15.45,"a":1483},{"t":15.95,"a":1478},{"t":16.45,"a":1459},{"t":16.95,"a":1473},{"t":17.45,"a":1481},{"t":17.95,"a":1471},{"t":18.45,"a":1463},{"t":18.95,"a":1490},{"t":19.45,"a":1467},{"t":19.95,"a":1476},
{"t":20.45,"a":1462},{"t":20.95,"a":1475},{"t":21.45,"a":1479},{"t":21.95,"a":1457},{"t":22.45,"a":1477},{"t":22.95,"a":1464},{"t":23.45,"a":1485},{"t":23.95,"a":1470},{"t":24.45,"a":1474},{"t":24.95,"a":1466},
{"t":25.45,"a":1480},{"t":25.95,"a":1469},{"t":26.45,"a":1461},{"t":26.95,"a":1476},{"t":27.45,"a":1468},{"t":27.95,"a":1487},{"t":28.45,"a":1465},{"t":28.95,"a":1479},{"t":29.45,"a":1472},{"t":29.95,"a":1482},
{"t":30.45,"a":1477},{"t":30.95,"a":1460},{"t":31.45,"a":1471},{"t":31.95,"a":1482},{"t":32.45,"a":1462},{"t":32.95,"a":1478},{"t":33.45,"a":1473},{"t":33.95,"a":1466},{"t":34.45,"a":1488},{"t":34.95,"a":1470},
{"t":35.45,"a":1457},{"t":35.95,"a":1479},{"t":36.45,"a":1471},{"t":36.95,"a":1466},{"t":37.45,"a":1487},{"t":37.95,"a":1473},{"t":38.45,"a":1476},{"t":38.95,"a":1461},{"t":39.45,"a":1482},{"t":39.95,"a":1468},
{"t":40.45,"a":1481},{"t":40.95,"a":1472},{"t":41.45,"a":1478},{"t":41.95,"a":1463},{"t":42.45,"a":1470},{"t":42.95,"a":1490},{"t":43.45,"a":1469},{"t":43.95,"a":1484},{"t":44.45,"a":1465},{"t":44.95,"a":1475},
{"t":45.45,"a":1471},{"t":45.95,"a":1476},{"t":46.45,"a":1455},{"t":46.95,"a":1480},{"t":47.45,"a":1467},{"t":47.95,"a":1485},{"t":48.45,"a":1464},{"t":48.95,"a":1474},{"t":49.45,"a":1477},{"t":49.95,"a":1460},
{"t":50.45,"a":1459},{"t":50.95,"a":1473},{"t":51.45,"a":1479},{"t":51.95,"a":1468},{"t":52.45,"a":1475},{"t":52.95,"a":1462},{"t":53.45,"a":1488},{"t":53.95,"a":1466},{"t":54.45,"a":1470},{"t":54.95,"a":1483},
{"t":55.45,"a":1492},{"t":55.95,"a":1469},{"t":56.45,"a":1474},{"t":56.95,"a":1458},{"t":57.45,"a":1482},{"t":57.95,"a":1477},{"t":58.45,"a":1467},{"t":58.95,"a":1472},{"t":59.45,"a":1486},{"t":59.95,"a":1465},
{"t":60.45,"a":1473},{"t":60.95,"a":1459},{"t":61.45,"a":1465},{"t":61.95,"a":1484},{"t":62.45,"a":1475},{"t":62.95,"a":1463},{"t":63.45,"a":1470},{"t":63.95,"a":1480},{"t":64.45,"a":1461},{"t":64.95,"a":1477},
{"t":65.45,"a":1462},{"t":65.95,"a":1467},{"t":66.45,"a":1486},{"t":66.95,"a":1472},{"t":67.45,"a":1464},{"t":67.95,"a":1474},{"t":68.45,"a":1482},{"t":68.95,"a":1455},{"t":69.45,"a":1478},{"t":69.95,"a":1469},
{"t":70.45,"a":1483},{"t":70.95,"a":1470},{"t":71.45,"a":1466},{"t":71.95,"a":1488},{"t":72.45,"a":1468},{"t":72.95,"a":1481},{"t":73.45,"a":1460},{"t":73.95,"a":1475},{"t":74.45,"a":1471},{"t":74.95,"a":1479},
{"t":75.45,"a":1465},{"t":75.95,"a":1476},{"t":76.45,"a":1484},{"t":76.95,"a":1469},{"t":77.45,"a":1477},{"t":77.95,"a":1458},{"t":78.45,"a":1480},{"t":78.95,"a":1466},{"t":79.45,"a":1473},{"t":79.95,"a":1463},
{"t":80.45,"a":1468},{"t":80.95,"a":1485},{"t":81.45,"a":1474},{"t":81.95,"a":1463},{"t":82.45,"a":1483},{"t":82.95,"a":1467},{"t":83.45,"a":1472},{"t":83.95,"a":1479},{"t":84.45,"a":1457},{"t":84.95,"a":1475},
{"t":85.45,"a":1469},{"t":85.95,"a":1472},{"t":86.45,"a":1458},{"t":86.95,"a":1479},{"t":87.45,"a":1474},{"t":87.95,"a":1466},{"t":88.45,"a":1488},{"t":88.95,"a":1477},{"t":89.45,"a":1463},{"t":89.95,"a":1484},
{"t":90.45,"a":1476},{"t":90.95,"a":1455},{"t":91.45,"a":1475},{"t":91.95,"a":1482},{"t":92.45,"a":1467},{"t":92.95,"a":1473},{"t":93.45,"a":1464},{"t":93.95,"a":1470},{"t":94.45,"a":1480},{"t":94.95,"a":1461},
{"t":95.45,"a":1481},{"t":95.95,"a":1460},{"t":96.45,"a":1478},{"t":96.95,"a":1465},{"t":97.45,"a":1490},{"t":97.95,"a":1469},{"t":98.45,"a":1474},{"t":98.95,"a":1485},{"t":99.45,"a":1468},{"t":99.95,"a":1471},
{"t":100.45,"a":1457},{"t":100.95,"a":1483},{"t":101.45,"a":1470},{"t":101.95,"a":1477},{"t":102.45,"a":1466},{"t":102.95,"a":1472},{"t":103.45,"a":1486},{"t":103.95,"a":1462},{"t":104.45,"a":1475},{"t":104.95,"a":1479},
{"t":105.45,"a":1478},{"t":105.95,"a":1468},{"t":106.45,"a":1463},{"t":106.95,"a":1487},{"t":107.45,"a":1471},{"t":107.95,"a":1476},{"t":108.45,"a":1453},{"t":108.95,"a":1480},{"t":109.45,"a":1459},{"t":109.95,"a":1473},
{"t":110.45,"a":1474},{"t":110.95,"a":1481},{"t":111.45,"a":1469},{"t":111.95,"a":1460},{"t":112.45,"a":1479},{"t":112.95,"a":1485},{"t":113.45,"a":1471},{"t":113.95,"a":1467},{"t":114.45,"a":1483},{"t":114.95,"a":1464},
{"t":115.45,"a":1477},{"t":115.95,"a":1463},{"t":116.45,"a":1484},{"t":116.95,"a":1469},{"t":117.45,"a":1472},{"t":117.95,"a":1458},{"t":118.45,"a":1479},{"t":118.95,"a":1474},{"t":119.45,"a":1466},{"t":119.95,"a":1488},
{"t":120.45,"a":1470},{"t":120.95,"a":1480},{"t":121.45,"a":1461},{"t":121.95,"a":1476},{"t":122.45,"a":1455},{"t":122.95,"a":1475},{"t":123.45,"a":1482},{"t":123.95,"a":1467},{"t":124.45,"a":1473},{"t":124.95,"a":1464},
{"t":125.45,"a":1485},{"t":125.95,"a":1468},{"t":126.45,"a":1471},{"t":126.95,"a":1481},{"t":127.45,"a":1460},{"t":127.95,"a":1478},{"t":128.45,"a":1465},{"t":128.95,"a":1490},{"t":129.45,"a":1469},{"t":129.95,"a":1474},
{"t":130.45,"a":1462},{"t":130.95,"a":1475},{"t":131.45,"a":1479},{"t":131.95,"a":1457},{"t":132.45,"a":1483},{"t":132.95,"a":1470},{"t":133.45,"a":1477},{"t":133.95,"a":1466},{"t":134.45,"a":1472},{"t":134.95,"a":1486},
{"t":135.45,"a":1480},{"t":135.95,"a":1459},{"t":136.45,"a":1473},{"t":136.95,"a":1478},{"t":137.45,"a":1468},{"t":137.95,"a":1463},{"t":138.45,"a":1487},{"t":138.95,"a":1471},{"t":139.45,"a":1476},{"t":139.95,"a":1453},
{"t":140.45,"a":1467},{"t":140.95,"a":1483},{"t":141.45,"a":1464},{"t":141.95,"a":1474},{"t":142.45,"a":1481},{"t":142.95,"a":1469},{"t":143.45,"a":1460},{"t":143.95,"a":1479},{"t":144.45,"a":1485},{"t":144.95,"a":1471},
{"t":145.45,"a":1475},{"t":145.95,"a":1466},{"t":146.45,"a":1489},{"t":146.95,"a":1462},{"t":147.45,"a":1470},{"t":147.95,"a":1480},{"t":148.45,"a":1472},{"t":148.95,"a":1458},{"t":149.45,"a":1477},{"t":149.95,"a":1482},
{"t":150.45,"a":1465},{"t":150.95,"a":1473},{"t":151.45,"a":1469},{"t":151.95,"a":1484},{"t":152.45,"a":1463},{"t":152.95,"a":1476},{"t":153.45,"a":1456},{"t":153.95,"a":1478},{"t":154.45,"a":1474},{"t":154.95,"a":1461},
{"t":155.45,"a":1481},{"t":155.95,"a":1471},{"t":156.45,"a":1478},{"t":156.95,"a":1464},{"t":157.45,"a":1486},{"t":157.95,"a":1467},{"t":158.45,"a":1475},{"t":158.95,"a":1460},{"t":159.45,"a":1468},{"t":159.95,"a":1479},
{"t":160.45,"a":1469},{"t":160.95,"a":1487},{"t":161.45,"a":1465},{"t":161.95,"a":1472},{"t":162.45,"a":1477},{"t":162.95,"a":1461},{"t":163.45,"a":1481},{"t":163.95,"a":1470},{"t":164.45,"a":1459},{"t":164.95,"a":1476},
{"t":165.45,"a":1467},{"t":165.95,"a":1481},{"t":166.45,"a":1460},{"t":166.95,"a":1475},{"t":167.45,"a":1472},{"t":167.95,"a":1486},{"t":168.45,"a":1465},{"t":168.95,"a":1470},{"t":169.45,"a":1478},{"t":169.95,"a":1456},
{"t":170.45,"a":1474},{"t":170.95,"a":1464},{"t":171.45,"a":1483},{"t":171.95,"a":1468},{"t":172.45,"a":1489},{"t":172.95,"a":1469},{"t":173.45,"a":1462},{"t":173.95,"a":1477},{"t":174.45,"a":1471},{"t":174.95,"a":1480},
{"t":175.45,"a":1459},{"t":175.95,"a":1476},{"t":176.45,"a":1473},{"t":176.95,"a":1463},{"t":177.45,"a":1484},{"t":177.95,"a":1466},{"t":178.45,"a":1479},{"t":178.95,"a":1454},{"t":179.45,"a":1475},{"t":179.95,"a":1470},
{"t":180.45,"a":1481},{"t":180.95,"a":1468},{"t":181.45,"a":1464},{"t":181.95,"a":1486},{"t":182.45,"a":1460},{"t":182.95,"a":1473},{"t":183.45,"a":1466},{"t":183.95,"a":1477},{"t":184.45,"a":1471},{"t":184.95,"a":1457},
{"t":185.45,"a":1463},{"t":185.95,"a":1484},{"t":186.45,"a":1470},{"t":186.95,"a":1465},{"t":187.45,"a":1475},{"t":187.95,"a":1480},{"t":188.45,"a":1456},{"t":188.95,"a":1472},{"t":189.45,"a":1467},{"t":189.95,"a":1490},
{"t":190.45,"a":1476},{"t":190.95,"a":1460},{"t":191.45,"a":1479},{"t":191.95,"a":1469},{"t":192.45,"a":1462},{"t":192.95,"a":1474},{"t":193.45,"a":1483},{"t":193.95,"a":1464},{"t":194.45,"a":1458},{"t":194.95,"a":1472},
{"t":195.45,"a":1468},{"t":195.95,"a":1477},{"t":196.45,"a":1454},{"t":196.95,"a":1481},{"t":197.45,"a":1473},{"t":197.95,"a":1463},{"t":198.45,"a":1471},{"t":198.95,"a":1485},{"t":199.45,"a":1466},{"t":199.95,"a":1461},
{"t":200.45,"a":1478},{"t":200.95,"a":1470},{"t":201.45,"a":1474},{"t":201.95,"a":1459},{"t":202.45,"a":1480},{"t":202.95,"a":1467},{"t":203.45,"a":1487},{"t":203.95,"a":1465},{"t":204.45,"a":1469},{"t":204.95,"a":1482},
{"t":205.45,"a":1462},{"t":205.95,"a":1472},{"t":206.45,"a":1465},{"t":206.95,"a":1479},{"t":207.45,"a":1457},{"t":207.95,"a":1476},{"t":208.45,"a":1468},{"t":208.95,"a":1483},{"t":209.45,"a":1475},{"t":209.95,"a":1464},
{"t":210.45,"a":1474},{"t":210.95,"a":1456},{"t":211.45,"a":1478},{"t":211.95,"a":1471},{"t":212.45,"a":1466},{"t":212.95,"a":1482},{"t":213.45,"a":1462},{"t":213.95,"a":1473},{"t":214.45,"a":1484},{"t":214.95,"a":1467},
{"t":215.45,"a":1487},{"t":215.95,"a":1465},{"t":216.45,"a":1473},{"t":216.95,"a":1478},{"t":217.45,"a":1457},{"t":217.95,"a":1471},{"t":218.45,"a":1468},{"t":218.95,"a":1483},{"t":219.45,"a":1462},{"t":219.95,"a":1476},
{"t":220.45,"a":1463},{"t":220.95,"a":1472},{"t":221.45,"a":1466},{"t":221.95,"a":1481},{"t":222.45,"a":1474},{"t":222.95,"a":1454},{"t":223.45,"a":1475},{"t":223.95,"a":1460},{"t":224.45,"a":1479},{"t":224.95,"a":1469},
{"t":225.45,"a":1473},{"t":225.95,"a":1468},{"t":226.45,"a":1489},{"t":226.95,"a":1464},{"t":227.45,"a":1477},{"t":227.95,"a":1459},{"t":228.45,"a":1480},{"t":228.95,"a":1470},{"t":229.45,"a":1467},{"t":229.95,"a":1484},
{"t":47,"a":1743},{"t":156,"a":1776},{"t":179,"a":1872},{"t":228.7,"a":1881},{"t":229.3,"a":1925},{"t":63,"a":1768},{"t":106,"a":1765},{"t":9,"a":1852},{"t":190,"a":1866},
{"t":13.7,"a":1442},{"t":99.8,"a":1437},{"t":151.8,"a":1436},{"t":157,"a":1438},{"t":210,"a":1440},{"t":224.7,"a":1435},{"t":57.4,"a":1506},{"t":69.7,"a":1503},{"t":120,"a":1501},{"t":200,"a":1499},{"t":40.5,"a":1500},{"t":85,"a":1446},{"t":33,"a":1447}
]},
"mark":{"type":"square","filled":true,"size":6,"opacity":1},
"encoding":{
"x":{"field":"t","type":"quantitative","scale":{"domain":[0,230],"nice":false,"zero":false},
"axis":{"orient":"bottom","title":"Time [min]","values":[0,30,60,90,120,150,180,210],"labelExpr":"datum.value % 60 == 0 ? datum.label : ''","tickSize":{"condition":{"test":"datum.value % 60 != 0","value":-3.5},"value":-7},"labelPadding":14,"titlePadding":8}},
"y":{"field":"a","type":"quantitative","scale":{"domain":[1400,1930],"nice":false,"zero":false},
"axis":{"orient":"left","title":"Adc Measured [adc]","format":"d","values":[1400,1500,1600,1700,1800,1900],"tickSize":-7,"labelPadding":16,"titlePadding":20}},
"color":{"datum":"ADA11: ADC data","type":"nominal","scale":{"domain":["ADA11: ADC data","THP1:sn2: T[oC]"],"range":["#ff0000","#0000ff"]},
"legend":{"title":null,"orient":"none","legendX":161.5,"legendY":8,"symbolType":"circle","symbolSize":75,"labelAlign":"right","labelOffset":-37,"labelFontSize":14,"labelFont":"Liberation Sans","labelColor":"#000000","rowPadding":1,"padding":0,"symbolStrokeWidth":0,"labelLimit":300}}
}
},
{
"layer":[
{
"data":{"values":[
{"t":0,"T":31.5},{"t":2,"T":33.2},{"t":3.9,"T":34.7},{"t":7,"T":36.9},{"t":11.1,"T":38.9},{"t":14,"T":40.6},{"t":17.6,"T":42.4},{"t":21,"T":44.0},{"t":24.1,"T":45.3},{"t":27,"T":46.5},{"t":30.6,"T":47.7},{"t":34,"T":48.6},{"t":37,"T":49.4},{"t":40.4,"T":50.1},{"t":43.5,"T":50.9},{"t":46.9,"T":51.6},{"t":50.5,"T":52.4},{"t":54.1,"T":53.0},{"t":58.5,"T":53.8},{"t":63.3,"T":54.45},{"t":66.5,"T":54.9},{"t":69.8,"T":55.4},{"t":72.8,"T":55.8},{"t":75.6,"T":56.2},{"t":76.3,"T":56.2},{"t":78.9,"T":55.1},{"t":85,"T":55.1},{"t":85.1,"T":55.3},{"t":88.6,"T":55.3},{"t":88.7,"T":55.55},{"t":92.6,"T":55.55},{"t":92.7,"T":55.9},{"t":98.4,"T":55.9},{"t":98.5,"T":56.3},{"t":106.9,"T":56.3},{"t":107,"T":56.7},{"t":112.7,"T":56.7},{"t":112.8,"T":56.4},{"t":121.3,"T":56.4},{"t":124.5,"T":53.45},{"t":128.5,"T":50.6},{"t":132.4,"T":48.0},{"t":135.5,"T":46.2},{"t":138.9,"T":44.6},{"t":142,"T":43.1},{"t":145.4,"T":41.75},{"t":148.5,"T":40.7},{"t":151.9,"T":39.7},{"t":155,"T":38.7},{"t":158.5,"T":37.7},{"t":161.5,"T":36.9},{"t":165,"T":36.1},{"t":168,"T":35.3},{"t":171.5,"T":34.5},{"t":175,"T":33.8},{"t":178,"T":33.3},{"t":181,"T":32.8},{"t":184.5,"T":32.25},{"t":188,"T":31.7},{"t":191,"T":31.25},{"t":194,"T":30.75},{"t":197.6,"T":30.25},{"t":201,"T":29.85},{"t":204.1,"T":29.5},{"t":207.5,"T":29.2},{"t":210.6,"T":28.9},{"t":214,"T":28.5},{"t":217.1,"T":28.2},{"t":220.5,"T":27.95},{"t":223.7,"T":27.7},{"t":228.2,"T":27.2}
]},
"mark":{"type":"line","color":"#0000ff","strokeWidth":2.5},
"encoding":{
"x":{"field":"t","type":"quantitative","scale":{"domain":[0,230],"nice":false,"zero":false},
"axis":{"orient":"top","title":null,"labels":false,"values":[0,30,60,90,120,150,180,210],"tickSize":{"condition":{"test":"datum.value % 60 != 0","value":-3.5},"value":-7}}},
"y":{"field":"T","type":"quantitative","scale":{"domain":[20,73],"nice":false,"zero":false},
"axis":{"orient":"right","title":"Temperature [oC]","values":[20,30,40,50,60,70],"tickSize":-7,"labelPadding":16,"titlePadding":19,"titleAngle":270,"titleBaseline":"top"}}
}
},
{
"data":{"values":[
{"t0":0,"t1":0.36,"L":29},{"t0":0.36,"t1":0.96,"L":29.5},{"t0":0.96,"t1":1.57,"L":30},{"t0":1.57,"t1":2.17,"L":30.5},{"t0":2.17,"t1":2.77,"L":31},{"t0":2.77,"t1":3.37,"L":31.5},{"t0":3.37,"t1":3.98,"L":32},{"t0":3.98,"t1":4.58,"L":32.5},{"t0":4.58,"t1":5.18,"L":33},{"t0":5.18,"t1":5.78,"L":33.5},
{"t0":5.78,"t1":6.55,"L":34},{"t0":6.55,"t1":7.36,"L":34.5},{"t0":7.36,"t1":8.18,"L":35},{"t0":8.18,"t1":8.99,"L":35.5},{"t0":8.99,"t1":9.8,"L":36},{"t0":9.8,"t1":10.6,"L":36.5},{"t0":10.6,"t1":11.4,"L":37},{"t0":11.4,"t1":12.2,"L":37.5},{"t0":12.2,"t1":13.25,"L":38},{"t0":13.25,"t1":14.3,"L":38.5},
{"t0":14.3,"t1":15.4,"L":39},{"t0":15.4,"t1":16.5,"L":39.5},{"t0":16.5,"t1":17.5,"L":40},{"t0":17.5,"t1":18.6,"L":40.5},{"t0":18.6,"t1":19.7,"L":41},{"t0":19.7,"t1":20.8,"L":41.5},{"t0":20.8,"t1":22.0,"L":42},{"t0":22.0,"t1":23.2,"L":42.5},{"t0":23.2,"t1":24.4,"L":43},{"t0":24.4,"t1":25.7,"L":43.5},
{"t0":25.7,"t1":26.9,"L":44},{"t0":26.9,"t1":28.1,"L":44.5},{"t0":28.1,"t1":29.7,"L":45},{"t0":29.7,"t1":31.3,"L":45.5},{"t0":31.3,"t1":32.9,"L":46},{"t0":32.9,"t1":34.6,"L":46.5},{"t0":34.6,"t1":36.3,"L":47},{"t0":36.3,"t1":38.3,"L":47.5},{"t0":38.3,"t1":40.3,"L":48},{"t0":40.3,"t1":42.2,"L":48.5},
{"t0":42.2,"t1":44.5,"L":49},{"t0":44.5,"t1":47.1,"L":49.5},{"t0":47.1,"t1":49.7,"L":50},{"t0":49.7,"t1":52.6,"L":50.5},{"t0":52.6,"t1":55.6,"L":51},{"t0":55.6,"t1":58.7,"L":51.5},{"t0":58.7,"t1":62.4,"L":52},{"t0":62.4,"t1":66.0,"L":52.5},{"t0":66.0,"t1":69.7,"L":53},{"t0":69.7,"t1":72.0,"L":53.5},
{"t0":72.0,"t1":74.3,"L":54},{"t0":74.3,"t1":77.0,"L":54.5},{"t0":77.0,"t1":78.2,"L":54},{"t0":78.2,"t1":88.2,"L":53.5},{"t0":88.4,"t1":93.4,"L":54},{"t0":93.6,"t1":101.0,"L":54.5},{"t0":101.1,"t1":121.3,"L":55},
{"t0":121.3,"t1":122.0,"L":54.5},{"t0":122.0,"t1":122.7,"L":54},{"t0":122.7,"t1":123.5,"L":53.5},{"t0":123.5,"t1":124.2,"L":53},{"t0":124.2,"t1":124.9,"L":52.5},{"t0":124.9,"t1":125.6,"L":52},{"t0":125.6,"t1":126.4,"L":51.5},{"t0":126.4,"t1":127.2,"L":51},{"t0":127.2,"t1":128.0,"L":50.5},{"t0":128.0,"t1":128.8,"L":50},
{"t0":128.8,"t1":129.6,"L":49.5},{"t0":129.6,"t1":130.5,"L":49},{"t0":130.5,"t1":131.3,"L":48.5},{"t0":131.3,"t1":132.1,"L":48},{"t0":132.1,"t1":132.9,"L":47.5},{"t0":132.9,"t1":133.7,"L":47},{"t0":133.7,"t1":134.5,"L":46.5},{"t0":134.5,"t1":135.4,"L":46},{"t0":135.4,"t1":136.5,"L":45.5},{"t0":136.5,"t1":137.5,"L":45},
{"t0":137.5,"t1":138.6,"L":44.5},{"t0":138.6,"t1":139.7,"L":44},{"t0":139.7,"t1":140.7,"L":43.5},{"t0":140.7,"t1":141.8,"L":43},{"t0":141.8,"t1":142.9,"L":42.5},{"t0":142.9,"t1":143.9,"L":42},{"t0":143.9,"t1":145.0,"L":41.5},{"t0":145.0,"t1":146.3,"L":41},{"t0":146.3,"t1":147.8,"L":40.5},{"t0":147.8,"t1":149.3,"L":40},
{"t0":149.3,"t1":150.8,"L":39.5},{"t0":150.8,"t1":152.2,"L":39},{"t0":152.2,"t1":153.7,"L":38.5},{"t0":153.7,"t1":155.2,"L":38},{"t0":155.2,"t1":156.7,"L":37.5},{"t0":156.7,"t1":158.2,"L":37},{"t0":158.2,"t1":160.1,"L":36.5},{"t0":160.1,"t1":162.2,"L":36},{"t0":162.2,"t1":164.2,"L":35.5},{"t0":164.2,"t1":166.2,"L":35},
{"t0":166.2,"t1":168.3,"L":34.5},{"t0":168.3,"t1":170.3,"L":34},{"t0":170.3,"t1":172.5,"L":33.5},{"t0":172.5,"t1":174.9,"L":33},{"t0":174.9,"t1":177.4,"L":32.5},{"t0":177.4,"t1":179.8,"L":32},{"t0":179.8,"t1":182.3,"L":31.5},{"t0":182.3,"t1":184.8,"L":31},{"t0":184.8,"t1":188.0,"L":30.5},{"t0":188.0,"t1":191.2,"L":30},
{"t0":191.2,"t1":194.4,"L":29.5},{"t0":194.4,"t1":197.6,"L":29},{"t0":197.6,"t1":203.0,"L":28.5},{"t0":203.0,"t1":208.4,"L":28},{"t0":208.4,"t1":213.9,"L":27.5},{"t0":213.9,"t1":219.3,"L":27},{"t0":219.3,"t1":224.4,"L":26.5},{"t0":224.4,"t1":228.5,"L":26}
]},
"mark":{"type":"rule","color":"#0000ff","strokeWidth":3,"strokeCap":"square"},
"encoding":{
"x":{"field":"t0","type":"quantitative","scale":{"domain":[0,230],"nice":false,"zero":false}},
"x2":{"field":"t1"},
"y":{"field":"L","type":"quantitative","scale":{"domain":[20,73],"nice":false,"zero":false}}
}
}
]
}
]
}
